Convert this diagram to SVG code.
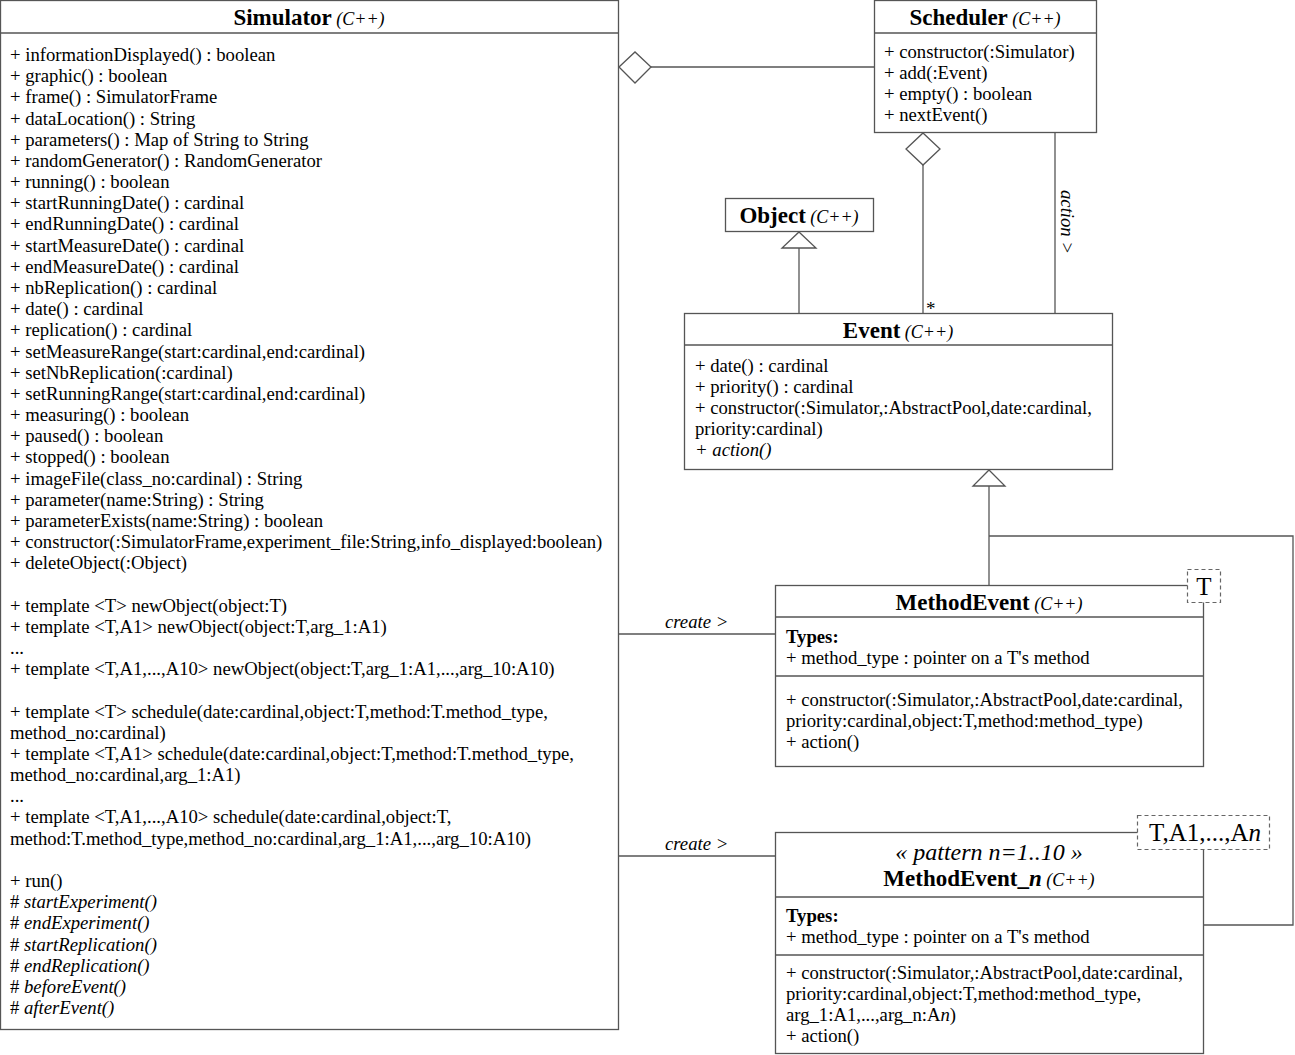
<svg xmlns="http://www.w3.org/2000/svg" width="1295" height="1055" viewBox="0 0 1295 1055">
<style>
text{font-family:"Liberation Serif","Times New Roman",serif;fill:#000;font-size:18.7px}
.box{fill:#fff;stroke:#555;stroke-width:1.3}
.sep{stroke:#555;stroke-width:1.3;fill:none}
.tpl{fill:#fff;stroke:#666;stroke-width:1.2;stroke-dasharray:4 3}
.t{font-weight:bold;font-size:23px}
.c{font-style:italic;font-size:18px}
.i{font-style:italic}
.b{font-weight:bold}
.ln{stroke:#555;stroke-width:1.3;fill:none}
.hd{fill:#fff;stroke:#555;stroke-width:1.3}
text.big{font-size:25px}
text.pat{font-size:24px;font-style:italic}
text.star{font-size:19px}
</style>
<rect width="1295" height="1055" fill="#fff"/>
<g id="connectors">
<line class="ln" x1="651" y1="67" x2="874" y2="67"/>
<polygon class="hd" points="619,67 635,52 651,67 635,83"/>
<line class="ln" x1="923" y1="165" x2="923" y2="313"/>
<polygon class="hd" points="923,133 940,149 923,165 906,149"/>
<text class="star" x="926" y="315">*</text>
<line class="ln" x1="1055" y1="132" x2="1055" y2="313"/>
<text class="i" transform="translate(1061,222) rotate(90)" text-anchor="middle">action &gt;</text>
<line class="ln" x1="799" y1="248" x2="799" y2="313"/>
<polygon class="hd" points="799,232 816,248 782,248"/>
<polyline class="ln" points="989,486 989,585"/>
<polyline class="ln" points="989,536 1293,536 1293,925 1203,925"/>
<polygon class="hd" points="989,470 1005,486 973,486"/>
<line class="ln" x1="618" y1="634" x2="775" y2="634"/>
<text class="i" x="665" y="628">create &gt;</text>
<line class="ln" x1="618" y1="856" x2="775" y2="856"/>
<text class="i" x="665" y="850">create &gt;</text>
</g>
<g id="simulator">
<rect class="box" x="0.5" y="0.5" width="618" height="1029"/>
<line class="sep" x1="0" y1="33" x2="618" y2="33"/>
<text x="309" y="25" text-anchor="middle"><tspan class="t">Simulator</tspan><tspan class="c"> (C++)</tspan></text>
<text x="10" y="61">
<tspan x="10" y="61">+ informationDisplayed() : boolean</tspan>
<tspan x="10" dy="21.18">+ graphic() : boolean</tspan>
<tspan x="10" dy="21.18">+ frame() : SimulatorFrame</tspan>
<tspan x="10" dy="21.18">+ dataLocation() : String</tspan>
<tspan x="10" dy="21.18">+ parameters() : Map of String to String</tspan>
<tspan x="10" dy="21.18">+ randomGenerator() : RandomGenerator</tspan>
<tspan x="10" dy="21.18">+ running() : boolean</tspan>
<tspan x="10" dy="21.18">+ startRunningDate() : cardinal</tspan>
<tspan x="10" dy="21.18">+ endRunningDate() : cardinal</tspan>
<tspan x="10" dy="21.18">+ startMeasureDate() : cardinal</tspan>
<tspan x="10" dy="21.18">+ endMeasureDate() : cardinal</tspan>
<tspan x="10" dy="21.18">+ nbReplication() : cardinal</tspan>
<tspan x="10" dy="21.18">+ date() : cardinal</tspan>
<tspan x="10" dy="21.18">+ replication() : cardinal</tspan>
<tspan x="10" dy="21.18">+ setMeasureRange(start:cardinal,end:cardinal)</tspan>
<tspan x="10" dy="21.18">+ setNbReplication(:cardinal)</tspan>
<tspan x="10" dy="21.18">+ setRunningRange(start:cardinal,end:cardinal)</tspan>
<tspan x="10" dy="21.18">+ measuring() : boolean</tspan>
<tspan x="10" dy="21.18">+ paused() : boolean</tspan>
<tspan x="10" dy="21.18">+ stopped() : boolean</tspan>
<tspan x="10" dy="21.18">+ imageFile(class_no:cardinal) : String</tspan>
<tspan x="10" dy="21.18">+ parameter(name:String) : String</tspan>
<tspan x="10" dy="21.18">+ parameterExists(name:String) : boolean</tspan>
<tspan x="10" dy="21.18">+ constructor(:SimulatorFrame,experiment_file:String,info_displayed:boolean)</tspan>
<tspan x="10" dy="21.18">+ deleteObject(:Object)</tspan>
<tspan x="10" dy="42.36">+ template &lt;T&gt; newObject(object:T)</tspan>
<tspan x="10" dy="21.18">+ template &lt;T,A1&gt; newObject(object:T,arg_1:A1)</tspan>
<tspan x="10" dy="21.18">...</tspan>
<tspan x="10" dy="21.18">+ template &lt;T,A1,...,A10&gt; newObject(object:T,arg_1:A1,...,arg_10:A10)</tspan>
<tspan x="10" dy="42.36">+ template &lt;T&gt; schedule(date:cardinal,object:T,method:T.method_type,</tspan>
<tspan x="10" dy="21.18">method_no:cardinal)</tspan>
<tspan x="10" dy="21.18">+ template &lt;T,A1&gt; schedule(date:cardinal,object:T,method:T.method_type,</tspan>
<tspan x="10" dy="21.18">method_no:cardinal,arg_1:A1)</tspan>
<tspan x="10" dy="21.18">...</tspan>
<tspan x="10" dy="21.18">+ template &lt;T,A1,...,A10&gt; schedule(date:cardinal,object:T,</tspan>
<tspan x="10" dy="21.18">method:T.method_type,method_no:cardinal,arg_1:A1,...,arg_10:A10)</tspan>
<tspan x="10" dy="42.36">+ run()</tspan>
<tspan x="10" dy="21.18"># <tspan class="i">startExperiment()</tspan></tspan>
<tspan x="10" dy="21.18"># <tspan class="i">endExperiment()</tspan></tspan>
<tspan x="10" dy="21.18"># <tspan class="i">startReplication()</tspan></tspan>
<tspan x="10" dy="21.18"># <tspan class="i">endReplication()</tspan></tspan>
<tspan x="10" dy="21.18"># <tspan class="i">beforeEvent()</tspan></tspan>
<tspan x="10" dy="21.18"># <tspan class="i">afterEvent()</tspan></tspan>
</text>
</g>
<g id="scheduler">
<rect class="box" x="874.5" y="0.5" width="222" height="132"/>
<line class="sep" x1="874" y1="33" x2="1096" y2="33"/>
<text x="985" y="25" text-anchor="middle"><tspan class="t">Scheduler</tspan><tspan class="c"> (C++)</tspan></text>
<text x="884" y="58">+ constructor(:Simulator)</text>
<text x="884" y="79">+ add(:Event)</text>
<text x="884" y="100">+ empty() : boolean</text>
<text x="884" y="121">+ nextEvent()</text>
</g>
<g id="object">
<rect class="box" x="725.5" y="198.5" width="148" height="33"/>
<text x="799" y="223" text-anchor="middle"><tspan class="t">Object</tspan><tspan class="c"> (C++)</tspan></text>
</g>
<g id="event">
<rect class="box" x="684.5" y="313.5" width="428" height="156"/>
<line class="sep" x1="684" y1="345" x2="1112" y2="345"/>
<text x="898" y="338" text-anchor="middle"><tspan class="t">Event</tspan><tspan class="c"> (C++)</tspan></text>
<text x="695" y="372">+ date() : cardinal</text>
<text x="695" y="393">+ priority() : cardinal</text>
<text x="695" y="414">+ constructor(:Simulator,:AbstractPool,date:cardinal,</text>
<text x="695" y="435">priority:cardinal)</text>
<text x="695" y="456" class="i">+ action()</text>
</g>
<g id="methodevent">
<rect class="box" x="775.5" y="585.5" width="428" height="181"/>
<line class="sep" x1="775" y1="617" x2="1203" y2="617"/>
<line class="sep" x1="775" y1="676" x2="1203" y2="676"/>
<text x="989" y="610" text-anchor="middle"><tspan class="t">MethodEvent</tspan><tspan class="c"> (C++)</tspan></text>
<text x="786" y="643" class="b">Types:</text>
<text x="786" y="664">+ method_type : pointer on a T's method</text>
<text x="786" y="706">+ constructor(:Simulator,:AbstractPool,date:cardinal,</text>
<text x="786" y="727">priority:cardinal,object:T,method:method_type)</text>
<text x="786" y="748">+ action()</text>
<rect class="tpl" x="1187.5" y="569.5" width="33" height="33"/>
<text class="big" x="1204" y="595" text-anchor="middle">T</text>
</g>
<g id="methodevent_n">
<rect class="box" x="775.5" y="832.5" width="428" height="221"/>
<line class="sep" x1="775" y1="897" x2="1203" y2="897"/>
<line class="sep" x1="775" y1="955" x2="1203" y2="955"/>
<text class="pat" x="989" y="860" text-anchor="middle">« pattern n=1..10 »</text>
<text x="989" y="886" text-anchor="middle"><tspan class="t">MethodEvent_</tspan><tspan class="t i">n</tspan><tspan class="c"> (C++)</tspan></text>
<text x="786" y="922" class="b">Types:</text>
<text x="786" y="943">+ method_type : pointer on a T's method</text>
<text x="786" y="979">+ constructor(:Simulator,:AbstractPool,date:cardinal,</text>
<text x="786" y="1000">priority:cardinal,object:T,method:method_type,</text>
<text x="786" y="1021">arg_1:A1,...,arg_n:A<tspan class="i">n</tspan>)</text>
<text x="786" y="1042">+ action()</text>
<rect class="tpl" x="1137.5" y="815.5" width="132" height="34"/>
<text class="big" x="1205" y="841" text-anchor="middle">T,A1,...,A<tspan class="i">n</tspan></text>
</g>
</svg>
